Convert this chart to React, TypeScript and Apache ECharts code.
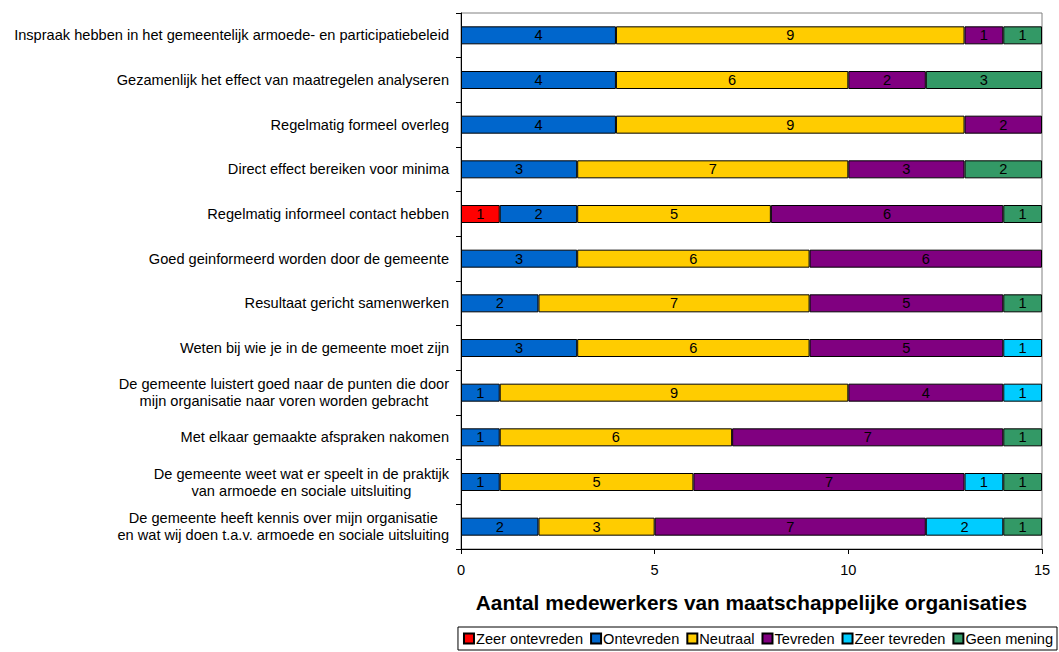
import React, { useEffect, useRef } from "react";
import * as echarts from "echarts";

const categories = [
  "Inspraak hebben in het gemeentelijk armoede- en participatiebeleid",
  "Gezamenlijk het effect van maatregelen analyseren",
  "Regelmatig formeel overleg",
  "Direct effect bereiken voor minima",
  "Regelmatig informeel contact hebben",
  "Goed geinformeerd worden door de gemeente",
  "Resultaat gericht samenwerken",
  "Weten bij wie je in de gemeente moet zijn",
  "De gemeente luistert goed naar de punten die door\nmijn organisatie naar voren worden gebracht",
  "Met elkaar gemaakte afspraken nakomen",
  "De gemeente weet wat er speelt in de praktijk\nvan armoede en sociale uitsluiting",
  "De gemeente heeft kennis over mijn organisatie\nen wat wij doen t.a.v. armoede en sociale uitsluiting",
];

const zeerOntevreden = [0, 0, 0, 0, 1, 0, 0, 0, 0, 0, 0, 0];
const ontevreden = [4, 4, 4, 3, 2, 3, 2, 3, 1, 1, 1, 2];
const neutraal = [9, 6, 9, 7, 5, 6, 7, 6, 9, 6, 5, 3];
const tevreden = [1, 2, 2, 3, 6, 6, 5, 5, 4, 7, 7, 7];
const zeerTevreden = [0, 0, 0, 0, 0, 0, 0, 1, 1, 0, 1, 2];
const geenMening = [1, 3, 0, 2, 1, 0, 1, 0, 0, 1, 1, 1];

const seriesNames = ["Zeer ontevreden", "Ontevreden", "Neutraal", "Tevreden", "Zeer tevreden", "Geen mening"];
const seriesColors = ["#FF0000", "#0066CC", "#FFCC00", "#800080", "#00CCFF", "#339966"];
const seriesData = [zeerOntevreden, ontevreden, neutraal, tevreden, zeerTevreden, geenMening];

const xTicks = { min: 0, max: 15, interval: 5 };
const xTitle = "Aantal medewerkers van maatschappelijke organisaties";

const FONT = 'Arial, "Liberation Sans", sans-serif';
const FS = 14.6;

export default function App() {
  const ref = useRef<HTMLDivElement>(null);
  useEffect(() => {
    if (!ref.current) return;
    const chart = echarts.init(ref.current, undefined, { renderer: "svg" });
    chart.setOption({
      animation: false,
      backgroundColor: "#ffffff",
      textStyle: { fontFamily: FONT },
      grid: {
        left: 461,
        right: 17,
        top: 13,
        bottom: 103,
        show: true,
        borderColor: "#808080",
        borderWidth: 1,
        backgroundColor: "#ffffff",
      },
      legend: {
        right: 2,
        bottom: 2,
        orient: "horizontal",
        icon: "rect",
        itemWidth: 10,
        itemHeight: 10,
        itemGap: 7,
        padding: [4, 4, 4, 5],
        borderColor: "#000000",
        borderWidth: 1,
        textStyle: { fontFamily: FONT, fontSize: FS, color: "#000", padding: [0, 0, 0, -3] },
        data: seriesNames,
      },
      xAxis: {
        type: "value",
        min: xTicks.min,
        max: xTicks.max,
        interval: xTicks.interval,
        splitLine: { show: false },
        axisLine: { show: true, lineStyle: { color: "#000", width: 1 } },
        axisTick: { show: true, length: 5, lineStyle: { color: "#000" } },
        axisLabel: { fontFamily: FONT, fontSize: FS, color: "#000", margin: 13 },
        name: xTitle,
        nameLocation: "middle",
        nameGap: 43,
        nameTextStyle: { fontFamily: FONT, fontSize: 20.8, fontWeight: "bold", color: "#000" },
      },
      yAxis: {
        type: "category",
        inverse: true,
        data: categories,
        axisLine: { show: true, lineStyle: { color: "#000", width: 1 } },
        axisTick: { show: true, length: 5, lineStyle: { color: "#000" } },
        axisLabel: {
          margin: 12,
          color: "#000",
          fontFamily: FONT,
          fontSize: FS,
          lineHeight: 17,
          formatter: (v: string) => v.split("\n").map((l) => `{c|${l}}`).join("\n"),
          rich: { c: { align: "center", fontFamily: FONT, fontSize: FS, lineHeight: 17, color: "#000" } },
        },
      },
      series: seriesNames.map((name, i) => ({
        name,
        type: "bar",
        stack: "total",
        barWidth: 18,
        data: seriesData[i].map((v) => (v === 0 ? null : v)),
        itemStyle: { color: seriesColors[i], borderColor: "#000", borderWidth: 1 },
        label: {
          show: true,
          position: "inside",
          color: "#000",
          fontFamily: FONT,
          fontSize: FS,
          textBorderWidth: 0,
        },
      })),
    });
    return () => chart.dispose();
  }, []);
  return (
    <div
      ref={ref}
      style={{ position: "fixed", left: 0, top: 0, width: 1059, height: 652 }}
    />
  );
}
